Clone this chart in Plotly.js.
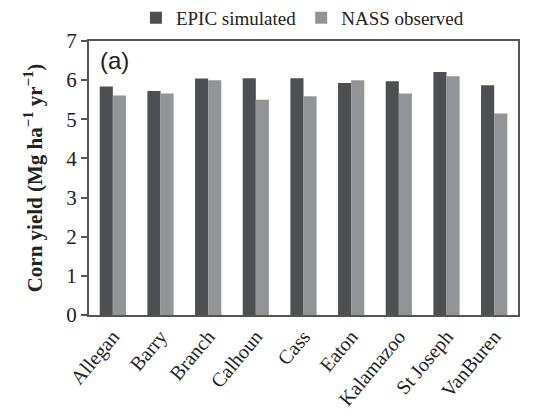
<!DOCTYPE html>
<html><head><meta charset="utf-8">
<script src="https://cdn.plot.ly/plotly-3.0.1.min.js"></script>
<style>body{margin:0;padding:0;background:#fff}#chart{width:533px;height:415px}</style>
</head><body><div id="chart"></div>
<script>
const counties = ["Allegan","Barry","Branch","Calhoun","Cass","Eaton","Kalamazoo","St Joseph","VanBuren"];
const epicSimulated = [5.84,5.72,6.04,6.05,6.05,5.93,5.97,6.21,5.87];
const nassObserved = [5.61,5.66,6.00,5.50,5.59,6.00,5.66,6.10,5.15];
const yTicks = [0,1,2,3,4,5,6,7];

const serif = "Liberation Serif, Times New Roman, serif";
const data = [
  {type:"bar", name:"EPIC simulated", x:counties, y:epicSimulated,
   marker:{color:"#4e4f52", line:{width:0}}},
  {type:"bar", name:"NASS observed", x:counties, y:nassObserved,
   marker:{color:"#939497", line:{width:0}}}
];
const layout = {
  width:533, height:415,
  margin:{l:89, r:15, t:41, b:100},
  paper_bgcolor:"#fff", plot_bgcolor:"#fff",
  barmode:"group", bargap:0.45, bargroupgap:0,
  showlegend:true,
  legend:{orientation:"h", xref:"container", yref:"container", x:0.255, xanchor:"left", y:0.957, yanchor:"middle",
    font:{family:serif, size:19, color:"#222"}, itemwidth:30, tracegroupgap:0},
  xaxis:{tickangle:-50, tickfont:{family:serif, size:20, color:"#222"},
    showline:true, linecolor:"#555", linewidth:2, mirror:true, ticks:"", showgrid:false},
  yaxis:{range:[0,7], tickvals:yTicks, ticktext:yTicks.map(String),
    tickfont:{family:serif, size:21, color:"#222"},
    ticks:"outside", ticklen:6, tickcolor:"#555", tickwidth:1.5,
    showline:true, linecolor:"#555", linewidth:2, mirror:true, showgrid:false, zeroline:false,
    title:{text:"<b>Corn yield (Mg ha<sup>−1</sup> yr<sup>−1</sup>)</b>", font:{family:serif, size:21, color:"#222"}, standoff:18}},
  annotations:[{text:"(a)", xref:"paper", yref:"paper", x:0.02, y:0.985, xanchor:"left", yanchor:"top",
    showarrow:false, font:{family:"Liberation Sans, Arial, sans-serif", size:24, color:"#222"}}]
};
Plotly.newPlot("chart", data, layout, {displayModeBar:false});
</script></body></html>
